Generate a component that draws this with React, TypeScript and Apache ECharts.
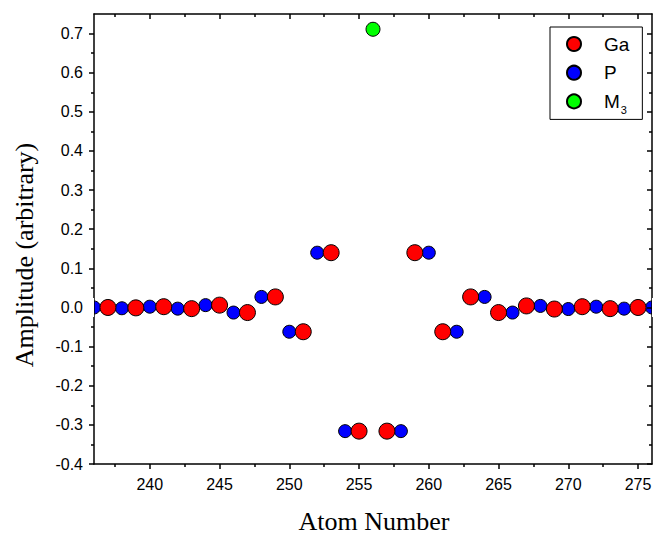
import React, { useEffect, useRef } from "react";
import * as echarts from "echarts";

const gaAtoms = [237, 239, 241, 243, 245, 247, 249, 251, 253, 255, 257, 259, 261, 263, 265, 267, 269, 271, 273, 275];
const gaValues = [0, -0.001, 0.002, -0.003, 0.006, -0.013, 0.027, -0.062, 0.14, -0.316, -0.316, 0.14, -0.062, 0.027, -0.013, 0.004, -0.004, 0.002, -0.003, 0];
const pAtoms = [236, 238, 240, 242, 244, 246, 248, 250, 252, 254, 258, 260, 262, 264, 266, 268, 270, 272, 274, 276];
const pValues = [0, -0.002, 0.002, -0.003, 0.006, -0.013, 0.027, -0.062, 0.14, -0.316, -0.316, 0.14, -0.062, 0.027, -0.013, 0.004, -0.004, 0.002, -0.003, 0];
const m3Atoms = [256];
const m3Values = [0.711];

const xMajor = [240, 245, 250, 255, 260, 265, 270, 275];
const xMinor = [237.5, 242.5, 247.5, 252.5, 257.5, 262.5, 267.5, 272.5];
const yMajor = [-0.4, -0.3, -0.2, -0.1, 0, 0.1, 0.2, 0.3, 0.4, 0.5, 0.6, 0.7];
const yMinor = [-0.35, -0.25, -0.15, -0.05, 0.05, 0.15, 0.25, 0.35, 0.45, 0.55, 0.65];

const legendNames = ["Ga", "P", "M3"];

export default function App() {
  const ref = useRef<HTMLDivElement>(null);
  useEffect(() => {
    if (!ref.current) return;
    const chart = echarts.init(ref.current, null, { renderer: "svg" });
    const line = { color: "#000", width: 1.5 };
    const sans = "'Liberation Sans', Arial, sans-serif";
    const serif = "'Liberation Serif', 'Times New Roman', serif";
    const xAx = (pos: string, vals: number[], len: number, inside: boolean, showLine: boolean, showLabel: boolean) => ({
      type: "value",
      min: 236,
      max: 276,
      position: pos,
      z: 3,
      axisLine: { show: showLine, onZero: false, lineStyle: line },
      axisTick: { show: true, inside, length: len, customValues: vals, lineStyle: line },
      axisLabel: showLabel
        ? { show: true, customValues: vals, margin: 12, fontSize: 16, color: "#000", fontFamily: sans }
        : { show: false },
      splitLine: { show: false },
    });
    const yAx = (pos: string, vals: number[], len: number, inside: boolean, showLine: boolean, showLabel: boolean) => ({
      type: "value",
      min: -0.4,
      max: 0.75,
      position: pos,
      z: 3,
      axisLine: { show: showLine, onZero: false, lineStyle: line },
      axisTick: { show: true, inside, length: len, customValues: vals, lineStyle: line },
      axisLabel: showLabel
        ? {
            show: true,
            customValues: vals,
            margin: 11,
            fontSize: 16,
            color: "#000",
            fontFamily: sans,
            formatter: (v: number) => v.toFixed(1),
          }
        : { show: false },
      splitLine: { show: false },
    });
    const mk = (xs: number[], ys: number[]) => xs.map((x, i) => [x, ys[i]]);
    chart.setOption({
      animation: false,
      backgroundColor: "#fff",
      grid: { left: 94, right: 4, top: 14, bottom: 73, outerBoundsMode: "none" },
      xAxis: [
        xAx("bottom", xMajor, 5, false, true, true),
        xAx("bottom", xMinor, 3, false, false, false),
        xAx("top", xMajor, 5, true, true, false),
        xAx("top", xMinor, 3, true, false, false),
      ],
      yAxis: [
        yAx("left", yMajor, 5, false, true, true),
        yAx("left", yMinor, 3, false, false, false),
        yAx("right", yMajor, 5, true, true, false),
        yAx("right", yMinor, 3, true, false, false),
      ],
      legend: {
        data: legendNames,
        orient: "vertical",
        left: 550,
        top: 27,
        padding: [7, 13, 4, 16],
        itemWidth: 50,
        itemHeight: 14,
        itemGap: 8.7,
        borderColor: "#000",
        borderWidth: 1,
        icon: "circle",
        formatter: (name: string) => (name === "M3" ? "{m|M}{sub|3}" : name),
        textStyle: {
          fontSize: 19,
          lineHeight: 20,
          color: "#000",
          fontFamily: sans,
          rich: {
            m: { fontSize: 19, lineHeight: 20, fontFamily: sans, color: "#000" },
            sub: { fontSize: 11, lineHeight: 11, fontFamily: sans, color: "#000", padding: [13, 0, 0, 1], verticalAlign: "top" },
          },
        },
      },
      graphic: [
        {
          type: "rect",
          z: 100,
          zlevel: 0,
          shape: { x: 84, y: 298, width: 10, height: 19 },
          style: { fill: "#fff" },
          silent: true,
        },
        {
          type: "rect",
          z: 100,
          shape: { x: 652, y: 298, width: 4, height: 19 },
          style: { fill: "#fff" },
          silent: true,
        },
        {
          type: "text",
          x: 374,
          y: 521,
          style: { text: "Atom Number", font: `26px ${serif}`, fill: "#000", textAlign: "center", textVerticalAlign: "middle" },
        },
        {
          type: "text",
          x: 24,
          y: 255,
          rotation: Math.PI / 2,
          style: { text: "Amplitude (arbitrary)", font: `26px ${serif}`, fill: "#000", textAlign: "center", textVerticalAlign: "middle" },
        },
      ],
      series: [
        {
          name: "P",
          type: "scatter",
          symbol: "circle",
          symbolSize: 13,
          data: mk(pAtoms, pValues),
          itemStyle: { color: "#0000ff", borderColor: "#000", borderWidth: 1, opacity: 1 },
        },
        {
          name: "Ga",
          type: "scatter",
          symbol: "circle",
          symbolSize: 16,
          data: mk(gaAtoms, gaValues),
          itemStyle: { color: "#ff0000", borderColor: "#000", borderWidth: 1, opacity: 1 },
        },
        {
          name: "M3",
          type: "scatter",
          symbol: "circle",
          symbolSize: 14,
          data: mk(m3Atoms, m3Values),
          itemStyle: { color: "#00ff00", borderColor: "#000", borderWidth: 1, opacity: 1 },
        },
      ],
    });
    return () => chart.dispose();
  }, []);
  return <div ref={ref} style={{ width: 656, height: 537, position: "absolute", left: 0, top: 0 }} />;
}
